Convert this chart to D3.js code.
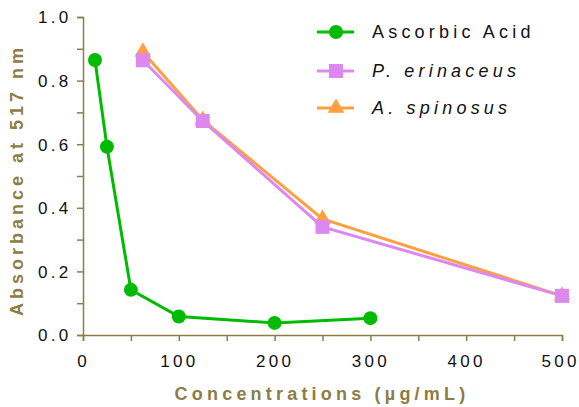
<!DOCTYPE html>
<html>
<head>
<meta charset="utf-8">
<script src="https://cdn.jsdelivr.net/npm/d3@7"></script>
<style>
  html, body { margin: 0; padding: 0; background: #fff; }
  svg { display: block; font-family: "Liberation Sans", Arial, sans-serif; }
</style>
</head>
<body>
<svg id="chart" width="579" height="407"></svg>
<script>
// DPPH assay: absorbance at 517 nm vs. concentration
const ascorbicConc = [12.5, 25, 50, 100, 200, 300];
const ascorbicAbs  = [0.865, 0.592, 0.142, 0.058, 0.038, 0.053];
const extractConc  = [62.5, 125, 250, 500];
const erinaceusAbs = [0.864, 0.673, 0.340, 0.123];
const spinosusAbs  = [0.890, 0.676, 0.365, 0.123];
const xTicks = [0, 100, 200, 300, 400, 500];
const yTicks = [0.0, 0.2, 0.4, 0.6, 0.8, 1.0];

const series = [
  { name: "Ascorbic Acid", italic: false, color: "#00BB00", shape: "circle",   x: ascorbicConc, y: ascorbicAbs },
  { name: "P. erinaceus",  italic: true,  color: "#DD88EE", shape: "square",   x: extractConc,  y: erinaceusAbs },
  { name: "A. spinosus",   italic: true,  color: "#FF9F40", shape: "triangle", x: extractConc,  y: spinosusAbs }
];

const axisColor = "#8C7D45";
const svg = d3.select("#chart");
const m = { left: 83, right: 17, top: 17, bottom: 72 };
const W = 579, H = 407;

const x = d3.scaleLinear().domain([0, 500]).range([m.left, W - m.right]);
const y = d3.scaleLinear().domain([0, 1]).range([H - m.bottom, m.top]);

// axes: major ticks labelled, minor ticks in between
const xAxis = d3.axisBottom(x).tickValues(d3.range(0, 501, 50)).tickSize(6)
  .tickFormat(d => xTicks.includes(d) ? d : "");
const yAxis = d3.axisLeft(y).tickValues(d3.range(0, 1.001, 0.1)).tickSize(6)
  .tickFormat(d => yTicks.some(t => Math.abs(t - d) < 1e-6) ? d3.format(".1f")(d) : "");

const gx = svg.append("g").attr("transform", `translate(0,${y(0)})`).call(xAxis);
const gy = svg.append("g").attr("transform", `translate(${x(0)},0)`).call(yAxis);
[gx, gy].forEach(g => {
  g.select(".domain").attr("stroke", axisColor).attr("stroke-width", 1.5);
  g.selectAll(".tick line").attr("stroke", axisColor).attr("stroke-width", 1.5);
  g.selectAll(".tick text").attr("fill", "#111").attr("font-size", 17)
    .attr("font-family", "Liberation Sans, Arial, sans-serif").attr("letter-spacing", "3.3px");
});
gx.selectAll(".tick text").attr("dy", "1.35em")
  .attr("dx", d => d === 500 ? "-2px" : null);
gy.selectAll(".tick text").attr("dx", "-2.5px").attr("dy", "0.35em");

// axis titles
svg.append("text").attr("x", 322).attr("y", 400)
  .attr("text-anchor", "middle").attr("fill", axisColor).attr("font-weight", "bold")
  .attr("font-size", 18).attr("letter-spacing", "4.2px").text("Concentrations (µg/mL)");
svg.append("text").attr("transform", `translate(23,${(y(0) + y(1)) / 2 + 4}) rotate(-90)`)
  .attr("text-anchor", "middle").attr("fill", axisColor).attr("font-weight", "bold")
  .attr("font-size", 18).attr("letter-spacing", "4px").text("Absorbance at 517 nm");

function marker(g, shape, color) {
  if (shape === "circle") return g.append("circle").attr("r", 7).attr("fill", color);
  if (shape === "square") return g.append("rect").attr("x", -7).attr("y", -7).attr("width", 14).attr("height", 14).attr("fill", color);
  return g.append("path").attr("d", d3.symbol(d3.symbolTriangle, 120)()).attr("fill", color);
}

const line = d3.line();
// draw in reverse so ascorbic acid sits on top, orange behind purple
const order = [series[2], series[1], series[0]];
order.forEach(s => {
  const pts = s.x.map((v, i) => [x(v), y(s.y[i])]);
  svg.append("path").attr("d", line(pts)).attr("fill", "none")
    .attr("stroke", s.color).attr("stroke-width", 3);
  pts.forEach(p => {
    const g = svg.append("g").attr("transform", `translate(${p[0]},${p[1]})`);
    marker(g, s.shape, s.color);
  });
});

// legend
const legendY = [32, 71, 108];
series.forEach((s, i) => {
  const g = svg.append("g").attr("transform", `translate(317,${legendY[i]})`);
  g.append("line").attr("x1", 0).attr("x2", 37).attr("stroke", s.color).attr("stroke-width", 3);
  const mg = g.append("g").attr("transform", "translate(19,0)");
  marker(mg, s.shape, s.color);
  g.append("text").attr("x", 55).attr("y", 0).attr("dy", "0.36em")
    .attr("font-size", 18).attr("fill", "#111").attr("letter-spacing", "4.2px")
    .attr("font-style", s.italic ? "italic" : "normal").text(s.name);
});
</script>
</body>
</html>
